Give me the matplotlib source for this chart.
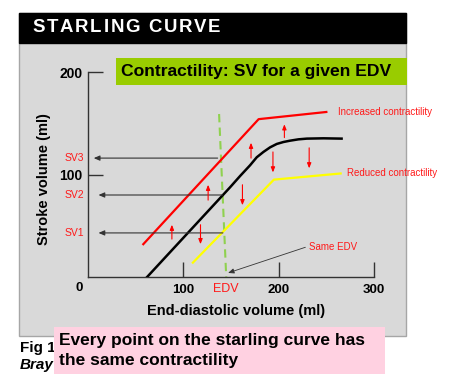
import matplotlib
matplotlib.use("Agg")
import matplotlib.pyplot as plt
from matplotlib.patches import Rectangle

plt.rcParams['font.family'] = ['Liberation Sans', 'DejaVu Sans']

# ---- data ----
edv_ticks = [100, 200, 300]
sv_ticks = [100, 200]

increased_x = [58, 179, 250]
increased_y = [32, 154, 161]

normal_x = [62, 149, 159.5, 170, 177, 184, 191, 198, 205, 212, 220.7, 229.5, 247, 266]
normal_y = [0, 87.5, 98.5, 109, 116.8, 122, 126.5, 129.8, 131.7, 133, 134.3, 135, 135.3, 135]

reduced_x = [110, 195, 265]
reduced_y = [14, 95, 101]

edv_line_x = [137.5, 145]
edv_line_y = [159, 0]

sv_names = ['SV3', 'SV2', 'SV1']
sv_values = [116, 80, 43]
sv_from_x = [136, 141, 141.5]
sv_to_x = [6, 11, 11]

# small red arrows: x, tail y, head y
up_arrows_x = [88, 126, 171, 206]
up_arrows_tail = [37, 75, 116, 136]
up_arrows_head = [51, 90, 131, 149]
down_arrows_x = [118, 162, 194, 232]
down_arrows_tail = [51, 90, 122, 126]
down_arrows_head = [32, 70, 102, 106]

W, H = 472, 386
fig = plt.figure(figsize=(W / 100, H / 100), dpi=100)
fig.patch.set_facecolor('white')


def fx(x):
    return x / W


def fy(y):
    return 1 - y / H


# grey panel and black header
fig.add_artist(Rectangle((fx(19), fy(336)), fx(387), 323 / H, transform=fig.transFigure,
                         facecolor='#d9d9d9', edgecolor='#a6a6a6', lw=1.0, zorder=0))
fig.add_artist(Rectangle((fx(19), fy(43)), fx(387), 30 / H, transform=fig.transFigure,
                         facecolor='black', edgecolor='black', lw=1.0, zorder=1))

# letter-spaced title, one character at a time
renderer = fig.canvas.get_renderer()
cur = 32.0
for ch in 'STARLING CURVE':
    t = fig.text(fx(cur), fy(28), ch, color='white', fontsize=13.4,
                 fontweight='bold', va='center', ha='left')
    if ch == ' ':
        cur += 6.5
    else:
        cur += t.get_window_extent(renderer).width + 1.8

# main axes
ax = fig.add_axes([fx(88), fy(277), 286 / W, 205 / H])
ax.set_facecolor('none')
ax.set_xlim(0, 300)
ax.set_ylim(0, 200)
for s in ['top', 'right']:
    ax.spines[s].set_visible(False)
for s in ['left', 'bottom']:
    ax.spines[s].set_color('#333333')
    ax.spines[s].set_linewidth(1.0)
ax.set_xticks(edv_ticks)
ax.set_yticks(sv_ticks)
ax.tick_params(direction='in', length=11, width=1.0, color='#333333', pad=5)
ax.set_xticklabels([str(t) for t in edv_ticks], fontsize=9.5, fontweight='bold')
ax.set_yticklabels([str(t) for t in sv_ticks], fontsize=10, fontweight='bold')
ax.tick_params(axis='y', pad=4)
ax.text(-9, -11, '0', fontsize=9.5, fontweight='bold', ha='center', va='center', clip_on=False)
ax.text(155, -33, 'End-diastolic volume (ml)', fontsize=10.5, fontweight='bold',
        ha='center', va='center', clip_on=False)
ax.text(-46, 96, 'Stroke volume (ml)', fontsize=10.5, fontweight='bold', rotation=90,
        ha='center', va='center', clip_on=False)

# curves
ax.plot(edv_line_x, edv_line_y, color='#8fd14f', lw=1.5, dashes=(4, 2.5), zorder=2)
ax.plot(increased_x, increased_y, color='#ff0000', lw=1.6, zorder=3)
ax.plot(normal_x, normal_y, color='black', lw=1.8, zorder=3, solid_joinstyle='round')
ax.plot(reduced_x, reduced_y, color='#ffff00', lw=1.6, zorder=3)

# SV read-offs
for name, v, x0, x1 in zip(sv_names, sv_values, sv_from_x, sv_to_x):
    ax.annotate('', xy=(x1, v), xytext=(x0, v), annotation_clip=False,
                arrowprops=dict(arrowstyle='-|>,head_length=0.35,head_width=0.15',
                                color='#333333', lw=0.8, shrinkA=0, shrinkB=0))
    ax.text(-14, v, name, color='#ff1a1a', fontsize=7.5, ha='center', va='center', clip_on=False)

# contractility arrows
for x, t, h in zip(up_arrows_x + down_arrows_x, up_arrows_tail + down_arrows_tail,
                   up_arrows_head + down_arrows_head):
    ax.annotate('', xy=(x, h), xytext=(x, t),
                arrowprops=dict(arrowstyle='-|>,head_length=0.3,head_width=0.12',
                                color='#ff0000', lw=0.8, shrinkA=0, shrinkB=0))

# labels
ax.text(262, 161, 'Increased contractility', color='#ff1a1a', fontsize=7, ha='left', va='center')
ax.text(272, 101, 'Reduced contractility', color='#ff1a1a', fontsize=7, ha='left', va='center')
ax.text(232, 29, 'Same EDV', color='#ff1a1a', fontsize=7, ha='left', va='center')
ax.annotate('', xy=(147, 4), xytext=(228, 29),
            arrowprops=dict(arrowstyle='-|>,head_length=0.35,head_width=0.15',
                            color='#333333', lw=0.6, shrinkA=0, shrinkB=0))
ax.text(145, -12, 'EDV', color='#ff1a1a', fontsize=9, ha='center', va='center', clip_on=False)

# green banner
fig.add_artist(Rectangle((fx(116), fy(85)), fx(291), 27 / H, transform=fig.transFigure,
                         facecolor='#99cc00', edgecolor='none', zorder=5))
fig.text(fx(121), fy(71.5), 'Contractility: SV for a given EDV', fontsize=12.6,
         fontweight='bold', color='black', va='center', ha='left', zorder=6)

# figure caption and pink note
fig.text(fx(20), fy(348), 'Fig 1', fontsize=11, fontweight='bold', va='center', ha='left')
fig.text(fx(20), fy(365), 'Bray', fontsize=11, fontweight='bold', style='italic',
         va='center', ha='left')
fig.add_artist(Rectangle((fx(54), fy(374)), fx(331), 47 / H, transform=fig.transFigure,
                         facecolor='#ffd1e1', edgecolor='none', zorder=5))
fig.text(fx(59), fy(340), 'Every point on the starling curve has', fontsize=12.5,
         fontweight='bold', va='center', ha='left', zorder=6)
fig.text(fx(59), fy(360), 'the same contractility', fontsize=12.5,
         fontweight='bold', va='center', ha='left', zorder=6)

fig.savefig('out.png', dpi=100)
